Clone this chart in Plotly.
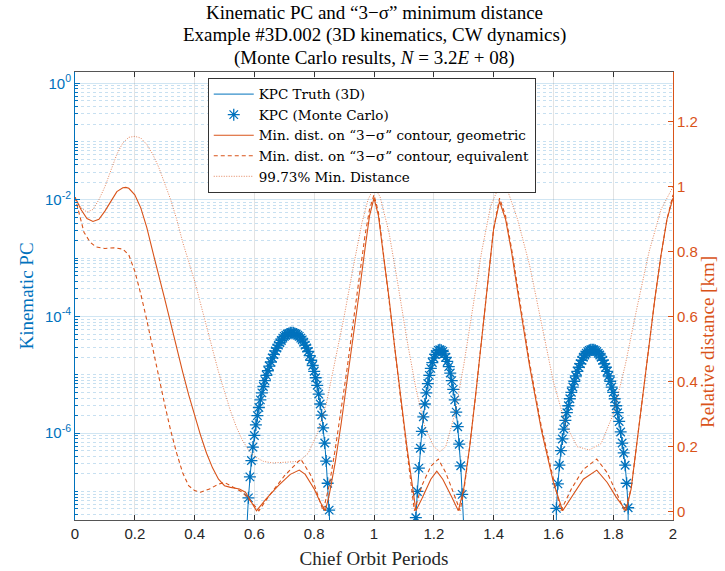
import plotly.graph_objects as go

BLUE = "#0072BD"
ORANGE = "#D95319"

# ---- KPC lobes (log10 of PC), time in chief orbit periods ----
lobe1_t = [0.575, 0.580, 0.585, 0.590, 0.595, 0.600, 0.605, 0.610, 0.615, 0.620, 0.625, 0.630,
           0.635, 0.640, 0.645, 0.650, 0.655, 0.660, 0.665, 0.670, 0.675, 0.680, 0.685, 0.690,
           0.695, 0.700, 0.705, 0.710, 0.715, 0.720, 0.725, 0.730, 0.735, 0.740, 0.745, 0.750,
           0.755, 0.760, 0.765, 0.770, 0.775, 0.780, 0.785, 0.790, 0.795, 0.800, 0.805, 0.810,
           0.815, 0.820, 0.825, 0.830, 0.835, 0.840, 0.845, 0.850, 0.855]
lobe1_log = [-7.60, -7.11, -6.75, -6.47, -6.24, -6.04, -5.86, -5.70, -5.56, -5.43, -5.31, -5.20,
             -5.10, -5.01, -4.93, -4.85, -4.78, -4.71, -4.65, -4.59, -4.54, -4.49, -4.45, -4.41,
             -4.37, -4.34, -4.32, -4.30, -4.29, -4.28, -4.28, -4.28, -4.29, -4.30, -4.32, -4.34,
             -4.37, -4.40, -4.44, -4.49, -4.54, -4.60, -4.67, -4.75, -4.84, -4.94, -5.05, -5.18,
             -5.33, -5.50, -5.69, -5.91, -6.17, -6.48, -6.86, -7.32, -7.80]

lobe2_t = [1.140, 1.145, 1.150, 1.155, 1.160, 1.165, 1.170, 1.175, 1.180, 1.185, 1.190, 1.195,
           1.200, 1.205, 1.210, 1.215, 1.220, 1.225, 1.230, 1.235, 1.240, 1.245, 1.250, 1.255,
           1.260, 1.265, 1.270, 1.275, 1.280, 1.285, 1.290, 1.295, 1.300]
lobe2_log = [-7.45, -7.00, -6.60, -6.26, -5.97, -5.72, -5.50, -5.31, -5.15, -5.01, -4.89, -4.79,
             -4.71, -4.65, -4.61, -4.58, -4.57, -4.58, -4.60, -4.64, -4.70, -4.77, -4.86, -4.97,
             -5.10, -5.25, -5.43, -5.64, -5.89, -6.19, -6.56, -7.05, -7.60]

lobe3_t = [1.610, 1.615, 1.620, 1.625, 1.630, 1.635, 1.640, 1.645, 1.650, 1.655, 1.660, 1.665,
           1.670, 1.675, 1.680, 1.685, 1.690, 1.695, 1.700, 1.705, 1.710, 1.715, 1.720, 1.725,
           1.730, 1.735, 1.740, 1.745, 1.750, 1.755, 1.760, 1.765, 1.770, 1.775, 1.780, 1.785,
           1.790, 1.795, 1.800, 1.805, 1.810, 1.815, 1.820, 1.825, 1.830, 1.835, 1.840, 1.845,
           1.850]
lobe3_log = [-7.29, -6.87, -6.55, -6.30, -6.10, -5.93, -5.78, -5.65, -5.53, -5.41, -5.30, -5.21,
             -5.11, -5.02, -4.94, -4.87, -4.81, -4.75, -4.70, -4.66, -4.63, -4.60, -4.58, -4.57,
             -4.57, -4.57, -4.58, -4.60, -4.63, -4.66, -4.70, -4.75, -4.81, -4.87, -4.94, -5.02,
             -5.11, -5.21, -5.30, -5.41, -5.53, -5.65, -5.80, -5.98, -6.17, -6.34, -6.55, -6.86,
             -7.28]

# ---- minimum distances [km] ----
geo_t = [0.00, 0.02, 0.04, 0.06, 0.08, 0.10, 0.12, 0.14, 0.16, 0.17, 0.18, 0.20, 0.22, 0.24,
         0.26, 0.28, 0.30, 0.32, 0.34, 0.36, 0.38, 0.40, 0.42, 0.44, 0.46, 0.48, 0.50, 0.52,
         0.55, 0.57, 0.59, 0.607, 0.64, 0.68, 0.72, 0.75, 0.77, 0.80, 0.82, 0.837, 0.85, 0.87,
         0.89, 0.91, 0.93, 0.95, 0.97, 0.985, 1.00, 1.015, 1.03, 1.05, 1.07, 1.09, 1.11, 1.13,
         1.14, 1.16, 1.19, 1.21, 1.23, 1.26, 1.282, 1.30, 1.32, 1.34, 1.36, 1.38, 1.40, 1.42,
         1.44, 1.46, 1.48, 1.50, 1.52, 1.54, 1.56, 1.58, 1.60, 1.631, 1.66, 1.70, 1.745, 1.78,
         1.81, 1.843, 1.86, 1.88, 1.90, 1.92, 1.94, 1.96, 1.98, 2.00]
geo_d = [0.968, 0.930, 0.902, 0.893, 0.900, 0.925, 0.955, 0.985, 0.997, 0.998, 0.995, 0.975,
         0.935, 0.875, 0.800, 0.730, 0.655, 0.580, 0.500, 0.430, 0.360, 0.295, 0.235, 0.180,
         0.135, 0.100, 0.080, 0.075, 0.070, 0.060, 0.030, 0.003, 0.040, 0.080, 0.115, 0.128,
         0.115, 0.070, 0.030, 0.003, 0.050, 0.150, 0.270, 0.400, 0.530, 0.670, 0.810, 0.910,
         0.965, 0.910, 0.800, 0.660, 0.500, 0.350, 0.200, 0.070, 0.003, 0.040, 0.100, 0.125,
         0.100, 0.045, 0.003, 0.070, 0.200, 0.360, 0.520, 0.700, 0.870, 0.955, 0.900, 0.800,
         0.680, 0.560, 0.450, 0.350, 0.250, 0.170, 0.090, 0.003, 0.045, 0.100, 0.128, 0.090,
         0.045, 0.003, 0.070, 0.220, 0.370, 0.520, 0.660, 0.790, 0.900, 0.965]

eq_t = [0.00, 0.01, 0.02, 0.03, 0.05, 0.07, 0.10, 0.13, 0.16, 0.18, 0.20, 0.22, 0.24, 0.26,
        0.28, 0.30, 0.32, 0.34, 0.36, 0.38, 0.40, 0.42, 0.45, 0.48, 0.50, 0.53, 0.56, 0.59,
        0.615, 0.65, 0.70, 0.755, 0.79, 0.83, 0.85, 0.87, 0.89, 0.91, 0.93, 0.95, 0.97, 0.985,
        1.00, 1.015, 1.03, 1.05, 1.07, 1.09, 1.11, 1.135, 1.16, 1.19, 1.215, 1.24, 1.265,
        1.288, 1.30, 1.32, 1.34, 1.36, 1.38, 1.40, 1.42, 1.44, 1.46, 1.48, 1.50, 1.52, 1.54,
        1.56, 1.58, 1.60, 1.625, 1.66, 1.70, 1.745, 1.78, 1.81, 1.838, 1.86, 1.88, 1.90, 1.92,
        1.94, 1.96, 1.98, 2.00]
eq_d = [0.968, 0.930, 0.890, 0.860, 0.830, 0.815, 0.810, 0.812, 0.808, 0.790, 0.740, 0.670,
        0.590, 0.500, 0.410, 0.330, 0.250, 0.180, 0.120, 0.080, 0.065, 0.060, 0.070, 0.085,
        0.090, 0.075, 0.060, 0.030, 0.003, 0.050, 0.110, 0.162, 0.110, 0.003, 0.080, 0.190,
        0.310, 0.440, 0.580, 0.720, 0.850, 0.930, 0.975, 0.920, 0.810, 0.660, 0.500, 0.340,
        0.190, 0.003, 0.080, 0.140, 0.162, 0.120, 0.060, 0.003, 0.060, 0.200, 0.360, 0.530,
        0.700, 0.870, 0.965, 0.910, 0.810, 0.690, 0.570, 0.460, 0.360, 0.260, 0.180, 0.100,
        0.003, 0.070, 0.130, 0.162, 0.120, 0.060, 0.003, 0.070, 0.220, 0.370, 0.520, 0.660,
        0.790, 0.900, 0.975]

mc_t = [0.00, 0.02, 0.04, 0.06, 0.08, 0.10, 0.12, 0.14, 0.16, 0.18, 0.20, 0.22, 0.24, 0.26,
        0.28, 0.30, 0.32, 0.34, 0.36, 0.38, 0.40, 0.42, 0.44, 0.46, 0.48, 0.50, 0.52, 0.54,
        0.56, 0.58, 0.60, 0.63, 0.66, 0.70, 0.75, 0.78, 0.81, 0.84, 0.87, 0.90, 0.93, 0.96,
        0.98, 1.00, 1.02, 1.05, 1.08, 1.11, 1.14, 1.17, 1.20, 1.22, 1.24, 1.27, 1.30, 1.33,
        1.36, 1.39, 1.42, 1.45, 1.48, 1.52, 1.56, 1.60, 1.64, 1.68, 1.72, 1.76, 1.80, 1.84,
        1.88, 1.92, 1.96, 2.00]
mc_d = [0.968, 0.935, 0.922, 0.930, 0.960, 1.000, 1.050, 1.100, 1.135, 1.152, 1.155, 1.150,
        1.130, 1.100, 1.060, 1.010, 0.960, 0.900, 0.830, 0.770, 0.710, 0.640, 0.570, 0.500,
        0.430, 0.370, 0.310, 0.260, 0.220, 0.190, 0.170, 0.155, 0.150, 0.152, 0.155, 0.180,
        0.240, 0.330, 0.460, 0.600, 0.750, 0.890, 0.960, 0.998, 0.970, 0.860, 0.700, 0.530,
        0.380, 0.260, 0.200, 0.185, 0.200, 0.300, 0.450, 0.630, 0.800, 0.940, 1.005, 0.980,
        0.900, 0.760, 0.580, 0.400, 0.270, 0.200, 0.190, 0.210, 0.300, 0.450, 0.630, 0.800,
        0.930, 1.000]

title_lines = ["Kinematic PC and “3−σ” minimum distance",
               "Example #3D.002 (3D kinematics, CW dynamics)",
               "(Monte Carlo results, <i>N</i> = 3.2<i>E</i> + 08)"]

x_ticks = [0, 0.2, 0.4, 0.6, 0.8, 1, 1.2, 1.4, 1.6, 1.8, 2]
x_tick_text = ["0", "0.2", "0.4", "0.6", "0.8", "1", "1.2", "1.4", "1.6", "1.8", "2"]
y_ticks = [1e-6, 1e-4, 1e-2, 1]
y_tick_text = ["10<sup>-6</sup>", "10<sup>-4</sup>", "10<sup>-2</sup>", "10<sup>0</sup>"]
y2_ticks = [0, 0.2, 0.4, 0.6, 0.8, 1.0, 1.2]
y2_tick_text = ["0", "0.2", "0.4", "0.6", "0.8", "1", "1.2"]

ZERO = 1e-12  # PC is zero outside the lobes

def lobe_line(ts, ls):
    xs = [ts[0]] + ts + [ts[-1]]
    ys = [ZERO] + [10 ** v for v in ls] + [ZERO]
    return xs, ys

tx, ty = [], []
for ts, ls in [(lobe1_t, lobe1_log), (lobe2_t, lobe2_log), (lobe3_t, lobe3_log)]:
    xs, ys = lobe_line(ts, ls)
    tx += xs + [None]
    ty += ys + [None]

mx = lobe1_t + lobe2_t + lobe3_t
my = [10 ** v for v in lobe1_log + lobe2_log + lobe3_log]

minor_vals = []
for e in range(-8, 1):
    for k in range(1, 10):
        if e % 2 == 0 and k == 1:
            continue
        minor_vals.append(k * 10 ** e)

SERIF = "Liberation Serif"
SANS = "Liberation Sans"

fig = go.Figure()
fig.add_trace(go.Scatter(x=tx, y=ty, mode="lines", name="KPC Truth (3D)",
                         line=dict(color=BLUE, width=1), yaxis="y"))
fig.add_trace(go.Scatter(x=mx, y=my, mode="markers", name="KPC (Monte Carlo)",
                         marker=dict(symbol="asterisk-open", size=10,
                                     line=dict(color=BLUE, width=1.3), color=BLUE),
                         yaxis="y"))
fig.add_trace(go.Scatter(x=geo_t, y=geo_d, mode="lines",
                         name="Min. dist. on “3−σ” contour, geometric",
                         line=dict(color=ORANGE, width=1.1), yaxis="y2"))
fig.add_trace(go.Scatter(x=eq_t, y=eq_d, mode="lines",
                         name="Min. dist. on “3−σ” contour, equivalent",
                         line=dict(color=ORANGE, width=1.1, dash="4px,3px"), yaxis="y2"))
fig.add_trace(go.Scatter(x=mc_t, y=mc_d, mode="lines", name="99.73% Min. Distance",
                         line=dict(color="rgba(217,83,25,0.7)", width=1, dash="1px,1.5px"),
                         yaxis="y2"))

# Plot area on the page: x 75..673 px, y 72..520 px -> paper y = (520 - ypx) / 448
title_y_px = [12, 35, 58]
annotations = [dict(text=txt, xref="paper", yref="paper", x=0.5, y=(520 - ypx) / 448,
                    xanchor="center", yanchor="middle", showarrow=False,
                    font=dict(family=SERIF, size=19, color="black"))
               for txt, ypx in zip(title_lines, title_y_px)]
# right-hand axis title (sits a little below the axis centre in the original)
annotations.append(dict(text="Relative distance [km]", xref="paper", yref="paper",
                        x=(707 - 75) / 598, y=(520 - 342) / 448, xanchor="center",
                        yanchor="middle", textangle=-90, showarrow=False,
                        font=dict(family=SERIF, size=19, color=ORANGE)))

fig.update_layout(
    width=725, height=571,
    margin=dict(l=75, r=52, t=72, b=51, autoexpand=False),
    paper_bgcolor="white", plot_bgcolor="white",
    annotations=annotations,
    showlegend=True,
    legend=dict(x=0.222, y=0.987, xanchor="left", yanchor="top",
                bgcolor="white", bordercolor="#333", borderwidth=1,
                font=dict(family="DejaVu Serif", size=13.5, color="black"),
                tracegroupgap=0, itemwidth=40),
    xaxis=dict(range=[0, 2], tickvals=x_ticks, ticktext=x_tick_text, automargin=False,
               ticks="inside", ticklen=5, tickcolor="#333",
               showline=True, linecolor="#555", linewidth=1, mirror="ticks",
               showgrid=True, gridcolor="#e3e3e3", gridwidth=1, zeroline=False,
               tickfont=dict(family=SANS, size=15, color="#262626"),
               title=dict(text="Chief Orbit Periods", standoff=10,
                          font=dict(family=SERIF, size=19, color="#262626"))),
    yaxis=dict(type="log", range=[-7.49, 0.194], tickvals=y_ticks, ticktext=y_tick_text,
               automargin=False,
               ticks="inside", ticklen=5, tickcolor=BLUE,
               showline=True, linecolor=BLUE, linewidth=1,
               showgrid=True, gridcolor="rgba(0,114,189,0.18)", gridwidth=1, zeroline=False,
               minor=dict(tickvals=minor_vals, ticks="inside", ticklen=3, tickcolor=BLUE,
                          showgrid=True, gridcolor="rgba(0,114,189,0.22)", griddash="dot"),
               tickfont=dict(family=SANS, size=15, color=BLUE),
               title=dict(text="Kinematic PC", standoff=6,
                          font=dict(family=SERIF, size=19, color=BLUE))),
    yaxis2=dict(overlaying="y", side="right", range=[-0.0255, 1.353], automargin=False,
                tickvals=y2_ticks, ticktext=y2_tick_text,
                ticks="inside", ticklen=5, tickcolor=ORANGE,
                showline=True, linecolor=ORANGE, linewidth=1,
                showgrid=False, zeroline=False,
                tickfont=dict(family=SANS, size=15, color=ORANGE)),
)

# remove the browser's default 8 px page margin so the figure fills the window
fig.write_html("out.html", config={"displayModeBar": False},
               post_script="document.body.style.margin='0';")
